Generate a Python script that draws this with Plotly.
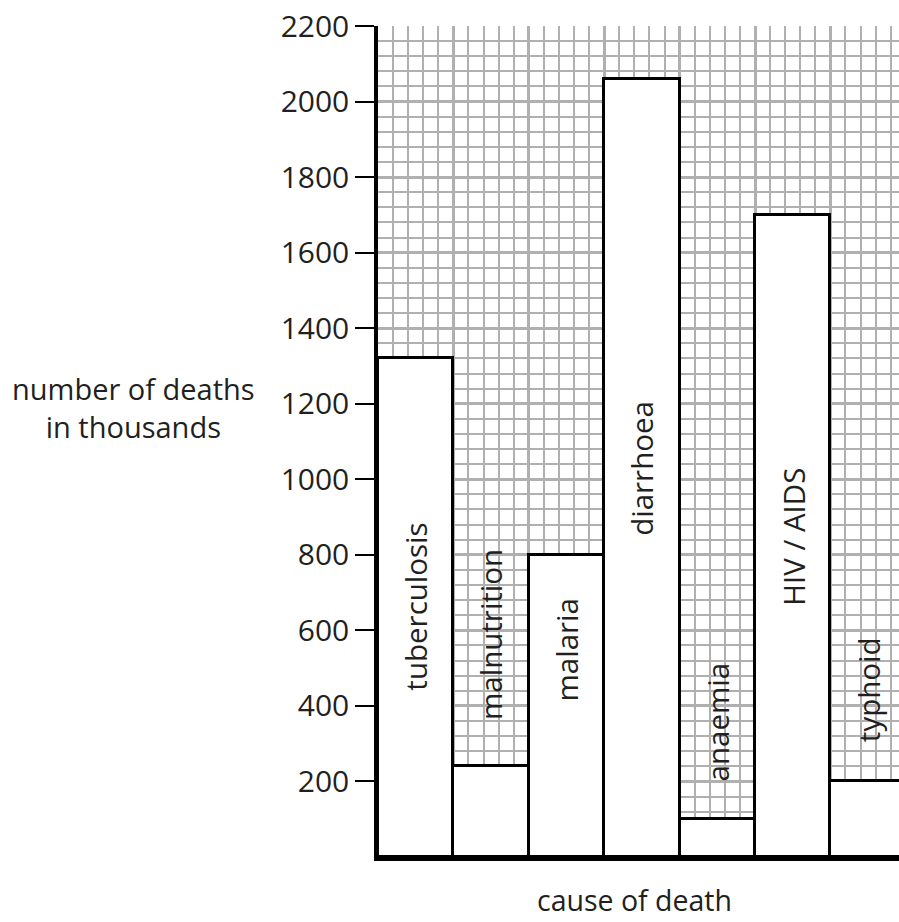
import plotly.graph_objects as go

causes = ["tuberculosis", "malnutrition", "malaria", "diarrhoea", "anaemia", "HIV / AIDS", "typhoid"]
deaths = [1320, 240, 800, 2060, 100, 1700, 200]
y_ticks = [200, 400, 600, 800, 1000, 1200, 1400, 1600, 1800, 2000, 2200]

# layout: where each rotated label sits (data units of the y axis)
label_y = [662, 588, 548, 1030, 357, 847, 442]

FONT = "Open Sans"
TXT = "#231f20"
GRID = "#b0b0b0"

xs = list(range(len(causes)))

fig = go.Figure()
fig.add_trace(go.Bar(
    x=xs, y=deaths, width=1,
    marker=dict(color="white", line=dict(color="black", width=3)),
    hoverinfo="skip", showlegend=False,
))

annotations = []
for i, (c, ly) in enumerate(zip(causes, label_y)):
    annotations.append(dict(
        x=i, y=ly, xref="x", yref="y", text=c, textangle=-90,
        showarrow=False, xanchor="center", yanchor="middle",
        font=dict(family=FONT, size=29.5, color=TXT),
    ))

W, H = 899, 922
L, R, T, B = 378, 0, 26, 65
pw = W - L - R
ph = H - T - B

def px_to_paper_x(px):
    return (px - L) / pw

def px_to_paper_y(py):
    return (H - B - py) / ph

annotations.append(dict(
    x=px_to_paper_x(133), y=px_to_paper_y(408), xref="paper", yref="paper",
    text="number of deaths<br>in thousands", showarrow=False,
    xanchor="center", yanchor="middle", align="center",
    font=dict(family=FONT, size=29, color=TXT),
))
annotations.append(dict(
    x=px_to_paper_x(634), y=px_to_paper_y(900), xref="paper", yref="paper",
    text="cause of death", showarrow=False,
    xanchor="center", yanchor="middle",
    font=dict(family=FONT, size=28.5, color=TXT),
))

fig.update_layout(
    width=W, height=H,
    margin=dict(l=L, r=R, t=T, b=B, pad=0),
    paper_bgcolor="white", plot_bgcolor="white",
    bargap=0,
    annotations=annotations,
    xaxis=dict(
        range=[-0.5, -0.5 + pw / 75.4],
        tickmode="linear", tick0=-0.5, dtick=1,
        showticklabels=False, ticks="",
        showgrid=True, gridcolor=GRID, gridwidth=3,
        minor=dict(tickmode="linear", tick0=-0.5, dtick=0.2, showgrid=True,
                   gridcolor=GRID, gridwidth=2),
        showline=True, linecolor="black", linewidth=4,
        zeroline=False, fixedrange=True,
    ),
    yaxis=dict(
        range=[0, 2200],
        tickmode="array", tickvals=y_ticks, ticktext=[str(v) for v in y_ticks],
        ticks="outside", ticklen=19, tickwidth=2, tickcolor="black",
        tickfont=dict(family=FONT, size=30, color=TXT),
        showgrid=True, gridcolor=GRID, gridwidth=3,
        minor=dict(tickmode="linear", tick0=0, dtick=40, showgrid=True,
                   gridcolor=GRID, gridwidth=2),
        showline=True, linecolor="black", linewidth=3.5,
        zeroline=False, fixedrange=True,
    ),
)

fig.write_html(
    "out.html",
    config={"displayModeBar": False},
    post_script="document.body.style.margin='0';document.body.style.overflow='hidden';",
)
